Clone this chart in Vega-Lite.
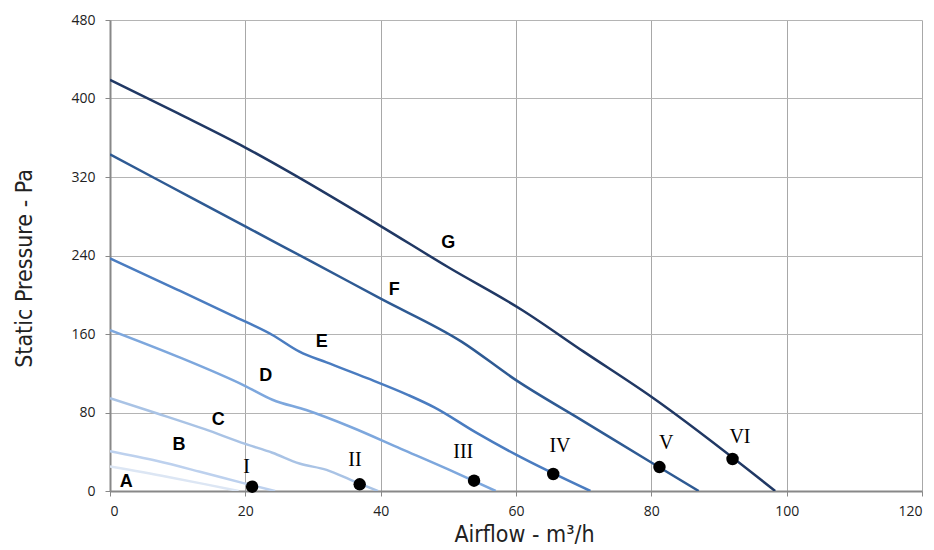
{
  "$schema": "https://vega.github.io/schema/vega-lite/v6.json",
  "width": 812,
  "height": 471,
  "autosize": "none",
  "padding": {"left": 110, "top": 20, "right": 12, "bottom": 59},
  "background": "white",
  "config": {"view": {"stroke": null}},
  "datasets": {
    "curves": [
      {"curve": "A", "x": 0, "y": 25}, {"curve": "A", "x": 8.4, "y": 14.6}, {"curve": "A", "x": 14, "y": 7}, {"curve": "A", "x": 19, "y": 0},
      {"curve": "B", "x": 0, "y": 40.5}, {"curve": "B", "x": 7, "y": 30.5}, {"curve": "B", "x": 13.3, "y": 19.6}, {"curve": "B", "x": 20, "y": 7.5}, {"curve": "B", "x": 24.4, "y": 0},
      {"curve": "C", "x": 0, "y": 94.5}, {"curve": "C", "x": 7, "y": 79}, {"curve": "C", "x": 14, "y": 63}, {"curve": "C", "x": 20, "y": 48}, {"curve": "C", "x": 24, "y": 39}, {"curve": "C", "x": 28, "y": 28}, {"curve": "C", "x": 32, "y": 21.5}, {"curve": "C", "x": 36, "y": 10}, {"curve": "C", "x": 39.6, "y": 0},
      {"curve": "D", "x": 0, "y": 164}, {"curve": "D", "x": 10, "y": 137}, {"curve": "D", "x": 20, "y": 107}, {"curve": "D", "x": 24, "y": 93}, {"curve": "D", "x": 29, "y": 82.5}, {"curve": "D", "x": 35.5, "y": 65.5}, {"curve": "D", "x": 43, "y": 43}, {"curve": "D", "x": 50, "y": 22}, {"curve": "D", "x": 57, "y": 0},
      {"curve": "E", "x": 0, "y": 237}, {"curve": "E", "x": 10, "y": 205}, {"curve": "E", "x": 18, "y": 179}, {"curve": "E", "x": 24, "y": 159}, {"curve": "E", "x": 28, "y": 142}, {"curve": "E", "x": 32, "y": 131}, {"curve": "E", "x": 38, "y": 115}, {"curve": "E", "x": 44, "y": 98}, {"curve": "E", "x": 48, "y": 85}, {"curve": "E", "x": 54, "y": 60}, {"curve": "E", "x": 60, "y": 37}, {"curve": "E", "x": 71, "y": 0},
      {"curve": "F", "x": 0, "y": 343}, {"curve": "F", "x": 12, "y": 299}, {"curve": "F", "x": 24, "y": 255}, {"curve": "F", "x": 30, "y": 233}, {"curve": "F", "x": 40, "y": 196}, {"curve": "F", "x": 52, "y": 152}, {"curve": "F", "x": 60, "y": 113}, {"curve": "F", "x": 70, "y": 71}, {"curve": "F", "x": 80, "y": 29}, {"curve": "F", "x": 87, "y": 0},
      {"curve": "G", "x": 0, "y": 419}, {"curve": "G", "x": 10, "y": 385}, {"curve": "G", "x": 20, "y": 350}, {"curve": "G", "x": 26, "y": 327}, {"curve": "G", "x": 40, "y": 270}, {"curve": "G", "x": 50, "y": 228}, {"curve": "G", "x": 61, "y": 184}, {"curve": "G", "x": 70, "y": 142}, {"curve": "G", "x": 80, "y": 96}, {"curve": "G", "x": 98.3, "y": 0}
    ],
    "curveLabels": [
      {"label": "A", "x": 2.4, "y": 9},
      {"label": "B", "x": 10.2, "y": 47},
      {"label": "C", "x": 16, "y": 72},
      {"label": "D", "x": 23, "y": 117},
      {"label": "E", "x": 31.3, "y": 152},
      {"label": "F", "x": 42, "y": 205},
      {"label": "G", "x": 50, "y": 253}
    ],
    "points": [
      {"label": "I", "x": 21, "y": 4.4, "lx": 20.2, "ly": 24.5},
      {"label": "II", "x": 36.9, "y": 6.8, "lx": 36.2, "ly": 31.6},
      {"label": "III", "x": 53.8, "y": 10.5, "lx": 52.2, "ly": 39.7},
      {"label": "IV", "x": 65.5, "y": 17.3, "lx": 66.5, "ly": 46},
      {"label": "V", "x": 81.2, "y": 24.4, "lx": 82.2, "ly": 49},
      {"label": "VI", "x": 92, "y": 32.6, "lx": 93.1, "ly": 55}
    ]
  },
  "layer": [
    {
      "data": {"name": "curves"},
      "mark": {"type": "line", "strokeWidth": 2.5, "clip": true, "interpolate": "monotone"},
      "encoding": {
        "x": {
          "field": "x", "type": "quantitative",
          "scale": {"domain": [0, 120], "nice": false, "zero": false},
          "axis": {
            "values": [0, 20, 40, 60, 80, 100, 120],
            "title": "Airflow - m³/h",
            "titleFont": "DejaVu Sans Condensed",
            "titleFontSize": 23, "titleFontWeight": "normal", "titleColor": "#222",
            "titlePadding": 5, "titleX": 414,
            "labelFont": "Open Sans", "labelFontSize": 14, "labelColor": "#222",
            "labelPadding": 8, "tickSize": 5, "tickColor": "#888",
            "domainColor": "#888", "domainWidth": 2,
            "grid": true, "gridColor": "#a8a8a8", "gridWidth": 1
          }
        },
        "y": {
          "field": "y", "type": "quantitative",
          "scale": {"domain": [0, 480], "nice": false},
          "axis": {
            "values": [0, 80, 160, 240, 320, 400, 480],
            "title": "Static Pressure - Pa",
            "titleFont": "DejaVu Sans Condensed",
            "titleFontSize": 23, "titleFontWeight": "normal", "titleColor": "#222",
            "titlePadding": 34, "titleY": 248,
            "labelFont": "Open Sans", "labelFontSize": 14, "labelColor": "#222",
            "labelPadding": 10, "tickSize": 5, "tickColor": "#888",
            "domainColor": "#888", "domainWidth": 2,
            "grid": true, "gridColor": "#b4b4b4", "gridWidth": 1
          }
        },
        "color": {
          "field": "curve", "type": "nominal",
          "scale": {
            "domain": ["A", "B", "C", "D", "E", "F", "G"],
            "range": ["#dce6f4", "#bdd1ee", "#a9c3e5", "#7da7dd", "#4a7cc0", "#2e5a93", "#203864"]
          },
          "legend": null
        }
      }
    },
    {
      "data": {"name": "curveLabels"},
      "mark": {"type": "text", "font": "Liberation Sans", "fontSize": 18, "fontWeight": "bold", "color": "#000", "align": "center", "baseline": "middle"},
      "encoding": {
        "x": {"field": "x", "type": "quantitative"},
        "y": {"field": "y", "type": "quantitative"},
        "text": {"field": "label"}
      }
    },
    {
      "data": {"name": "points"},
      "mark": {"type": "circle", "size": 155, "color": "#000", "opacity": 1},
      "encoding": {
        "x": {"field": "x", "type": "quantitative"},
        "y": {"field": "y", "type": "quantitative"}
      }
    },
    {
      "data": {"name": "points"},
      "mark": {"type": "text", "font": "Liberation Serif", "fontSize": 20, "color": "#000", "align": "center", "baseline": "middle"},
      "encoding": {
        "x": {"field": "lx", "type": "quantitative"},
        "y": {"field": "ly", "type": "quantitative"},
        "text": {"field": "label"}
      }
    }
  ]
}
